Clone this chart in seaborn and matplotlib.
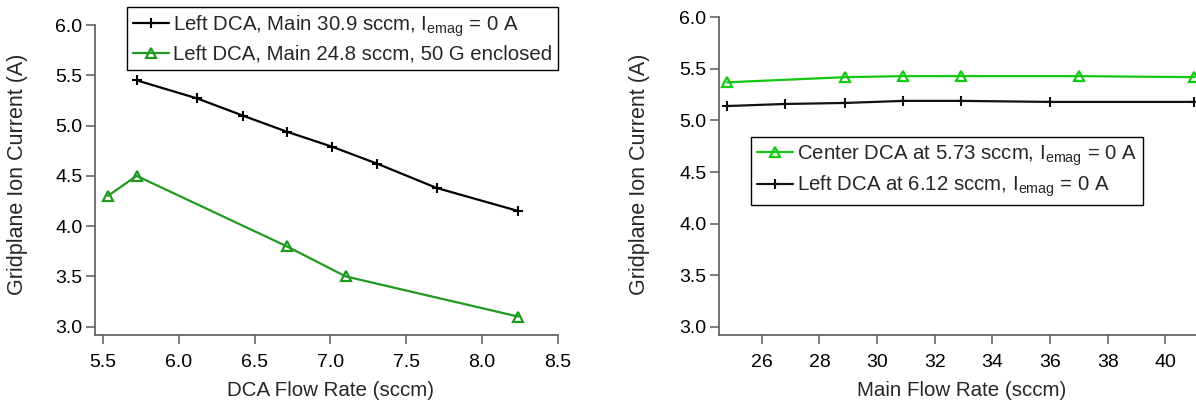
import matplotlib
matplotlib.use("Agg")
import matplotlib.pyplot as plt
import pandas as pd
import seaborn as sns

# Left panel: ion current vs DCA flow rate
dca_flow_black = [5.72, 6.12, 6.42, 6.71, 7.01, 7.31, 7.70, 8.24]
ion_black = [5.45, 5.27, 5.10, 4.94, 4.79, 4.62, 4.38, 4.15]
dca_flow_green = [5.53, 5.72, 6.71, 7.10, 8.24]
ion_green = [4.30, 4.50, 3.80, 3.50, 3.10]

# Right panel: ion current vs main flow rate
main_flow_center = [24.8, 28.9, 30.9, 32.9, 37.0, 41.0]
ion_center = [5.37, 5.42, 5.43, 5.43, 5.43, 5.42]
main_flow_left = [24.8, 26.8, 28.9, 30.9, 32.9, 36.0, 41.0]
ion_left = [5.14, 5.16, 5.17, 5.19, 5.19, 5.18, 5.18]

label_black = r"Left DCA, Main 30.9 sccm, $\mathregular{I_{emag}}$ = 0 A"
label_green = "Left DCA, Main 24.8 sccm, 50 G enclosed"
label_center = r"Center DCA at 5.73 sccm, $\mathregular{I_{emag}}$ = 0 A"
label_left = r"Left DCA at 6.12 sccm, $\mathregular{I_{emag}}$ = 0 A"

y_ticks = [3.0, 3.5, 4.0, 4.5, 5.0, 5.5, 6.0]
x_ticks_left = [5.5, 6.0, 6.5, 7.0, 7.5, 8.0, 8.5]
x_ticks_right = [26, 28, 30, 32, 34, 36, 38, 40]

sns.set_theme(style="ticks")
axis_grey = "#5a5a5a"
plt.rcParams.update({
    "font.family": ["Liberation Sans", "DejaVu Sans"],
    "mathtext.fontset": "custom",
    "mathtext.rm": "Liberation Sans",
    "mathtext.it": "Liberation Sans",
    "axes.edgecolor": axis_grey,
    "axes.linewidth": 1.2,
    "xtick.color": axis_grey,
    "ytick.color": axis_grey,
    "xtick.labelcolor": "black",
    "ytick.labelcolor": "black",
    "xtick.major.size": 6.5,
    "ytick.major.size": 6.5,
    "xtick.major.width": 1.1,
    "ytick.major.width": 1.1,
    "xtick.major.pad": 7,
    "ytick.major.pad": 2.5,
    "xtick.direction": "out",
    "ytick.direction": "out",
    "xtick.labelsize": 14,
    "ytick.labelsize": 14,
    "axes.labelsize": 14.8,
    "legend.fontsize": 14.7,
})

fig = plt.figure(figsize=(11.96, 4.05), dpi=100)
ax1 = fig.add_axes([0.0794, 0.1728, 0.3869, 0.7654])
ax2 = fig.add_axes([0.6012, 0.1728, 0.4273, 0.7844])

df_black = pd.DataFrame({"x": dca_flow_black, "y": ion_black})
df_green = pd.DataFrame({"x": dca_flow_green, "y": ion_green})
df_center = pd.DataFrame({"x": main_flow_center, "y": ion_center})
df_left = pd.DataFrame({"x": main_flow_left, "y": ion_left})

green_dark = "#1f9a1f"
green_bright = "#12c812"

plus_style = dict(marker="+", markersize=7, markeredgewidth=1.5)
tri_style = dict(marker="^", markersize=7, markerfacecolor="none", markeredgewidth=1.6)

sns.lineplot(data=df_black, x="x", y="y", ax=ax1, color="black", lw=1.6,
             markeredgecolor="black", sort=False, estimator=None,
             label=label_black, **plus_style)
sns.lineplot(data=df_green, x="x", y="y", ax=ax1, color=green_dark, lw=1.6,
             markeredgecolor=green_dark, sort=False, estimator=None,
             label=label_green, **tri_style)

sns.lineplot(data=df_center, x="x", y="y", ax=ax2, color=green_bright, lw=1.6,
             markeredgecolor=green_bright, sort=False, estimator=None,
             label=label_center, **tri_style)
sns.lineplot(data=df_left, x="x", y="y", ax=ax2, color="#111111", lw=1.6,
             markeredgecolor="#111111", sort=False, estimator=None,
             label=label_left, **plus_style)

for ax in (ax1, ax2):
    sns.despine(ax=ax)
    ax.set_yticks(y_ticks)
    ax.set_yticklabels([f"{v:.1f}" for v in y_ticks])
    ax.set_ylabel("Gridplane Ion Current (A)", fontsize=15.5)
    for line in ax.get_lines():
        line.set_clip_on(False)

ax1.set_xlim(5.445, 8.5)
ax1.set_ylim(2.917, 6.0)
ax1.set_xticks(x_ticks_left)
ax1.set_xticklabels([f"{v:.1f}" for v in x_ticks_left])
ax1.set_xlabel("DCA Flow Rate (sccm)")
ax1.xaxis.set_label_coords(0.51, -0.148)
ax1.yaxis.set_label_coords(-0.1437, 0.519)

ax2.set_xlim(24.52, 42.24)
ax2.set_ylim(2.92, 6.0)
ax2.set_xticks(x_ticks_right)
ax2.set_xticklabels([str(v) for v in x_ticks_right])
ax2.set_xlabel("Main Flow Rate (sccm)")
ax2.xaxis.set_label_coords(0.475, -0.145)
ax2.yaxis.set_label_coords(-0.135, 0.507)

leg_style = dict(frameon=True, fancybox=False, shadow=False, borderaxespad=0,
                 handlelength=1.76, handletextpad=0.2, borderpad=0.3,
                 labelspacing=0.3, edgecolor="black", framealpha=1)
leg1 = ax1.legend(loc="upper left", bbox_to_anchor=(0.069, 1.058), **leg_style)
leg2 = ax2.legend(loc="upper left", bbox_to_anchor=(0.0618, 0.623), **leg_style)
for leg in (leg1, leg2):
    leg.get_frame().set_linewidth(1.0)

fig.savefig("out.png", dpi=100)
